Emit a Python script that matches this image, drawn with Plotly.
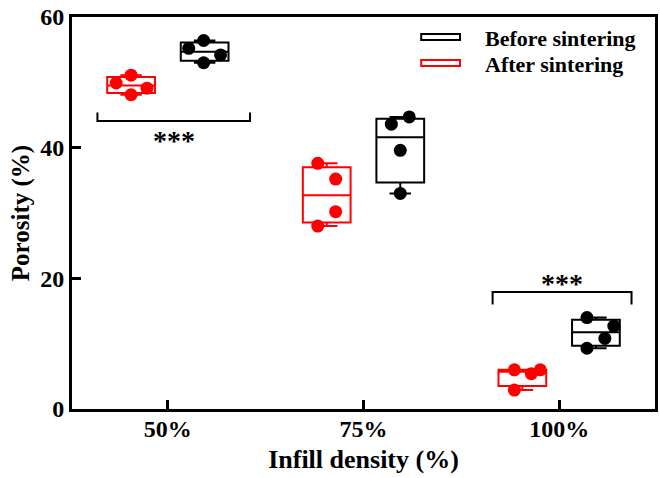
import numpy as np
import plotly.graph_objects as go

# ---------------- data ----------------
categories = ["50%", "75%", "100%"]
before_sintering = [
    [56.4, 55.2, 54.2, 53.0],
    [44.7, 43.6, 39.6, 33.0],
    [14.0, 12.7, 10.8, 9.3],
]
after_sintering = [
    [51.1, 49.9, 49.1, 48.1],
    [37.6, 35.2, 30.2, 28.0],
    [6.0, 5.4, 6.0, 2.9],
]
y_ticks = [0, 20, 40, 60]
significance = [
    {"cat": 0, "label": "***", "y": 44.1, "tip": 1.3, "left": -0.36, "right": 0.42, "below": True},
    {"cat": 2, "label": "***", "y": 17.9, "tip": -1.9, "left": -0.34, "right": 0.37, "below": False},
]

# ---------------- style ----------------
FONT = "Liberation Serif"
W, H = 660, 478
M = dict(l=72, r=2, t=17, b=69)
PW, PH = W - M["l"] - M["r"], H - M["t"] - M["b"]
X_RANGE = [-0.49, 2.49]
PX_PER_UNIT = PW / (X_RANGE[1] - X_RANGE[0])
GROUP_OFFSET = 0.188
BOX_WIDTH = 0.244
# horizontal swarm displacement of dots (pixels), purely cosmetic
before_dx = [[-1, -16, 16, -1], [9, -9, 0, 0], [-9, 18, 9, -9]]
after_dx = [[0, -15, 16, 0], [-9, 9, 9, -9], [-8, 9, 18, -8]]

series = [
    ("After sintering", after_sintering, after_dx, "#ff0000", -GROUP_OFFSET),
    ("Before sintering", before_sintering, before_dx, "#000000", GROUP_OFFSET),
]


def px_to_paper_x(px):
    return (px - M["l"]) / PW


def px_to_paper_y(py):
    return (M["t"] + PH - py) / PH


fig = go.Figure()
for name, data, dxs, color, off in series:
    pos = [i + off for i in range(len(categories))]
    q1 = [float(np.percentile(v, 25, method="weibull")) for v in data]
    med = [float(np.percentile(v, 50, method="weibull")) for v in data]
    q3 = [float(np.percentile(v, 75, method="weibull")) for v in data]
    lo = [min(v) for v in data]
    hi = [max(v) for v in data]
    fig.add_trace(go.Box(
        x=pos, q1=q1, median=med, q3=q3, lowerfence=lo, upperfence=hi,
        width=BOX_WIDTH, whiskerwidth=0.45, boxpoints=False,
        line=dict(color=color, width=2), fillcolor="rgba(255,255,255,0)",
        name=name, showlegend=False,
    ))
    xs, ys = [], []
    for i, (vals, d) in enumerate(zip(data, dxs)):
        for v, dx in zip(vals, d):
            xs.append(pos[i] + dx / PX_PER_UNIT)
            ys.append(v)
    fig.add_trace(go.Scatter(
        x=xs, y=ys, mode="markers", showlegend=False, name=name,
        marker=dict(size=13, color=color, line=dict(width=0)),
        hoverinfo="skip",
    ))

# significance brackets
for s in significance:
    x0 = s["cat"] + s["left"]
    x1 = s["cat"] + s["right"]
    y = s["y"]
    yt = y + s["tip"]
    fig.add_shape(type="path", xref="x", yref="y",
                  path=f"M {x0},{yt} L {x0},{y} L {x1},{y} L {x1},{yt}",
                  line=dict(color="black", width=2))
    fig.add_annotation(x=(x0 + x1) / 2, y=y, xref="x", yref="y",
                       text=s["label"], showarrow=False,
                       yanchor="top" if s["below"] else "bottom",
                       yshift=-2 if s["below"] else -9,
                       font=dict(family=FONT, size=28, color="black", weight="bold"))

# legend (drawn as shapes + text): Before first, After second
legend_rows = [("Before sintering", "#000000"), ("After sintering", "#ff0000")]
LEG_X0, LEG_X1, LEG_TEXT_X, LEG_Y0, LEG_DY = 423, 462, 486, 37, 26
for k, (label, color) in enumerate(legend_rows):
    cy = LEG_Y0 + k * LEG_DY
    fig.add_shape(type="rect", xref="paper", yref="paper",
                  x0=px_to_paper_x(LEG_X0), x1=px_to_paper_x(LEG_X1),
                  y0=px_to_paper_y(cy - 3), y1=px_to_paper_y(cy + 3),
                  line=dict(color=color, width=2), fillcolor="white")
    fig.add_annotation(x=px_to_paper_x(LEG_TEXT_X), y=px_to_paper_y(cy + 1),
                       xref="paper", yref="paper", xanchor="left", yanchor="middle",
                       text=label, showarrow=False, borderpad=0,
                       font=dict(family=FONT, size=22, color="black", weight="bold"))

axis_common = dict(showline=True, mirror=True, linewidth=3, linecolor="black",
                   ticks="inside", ticklen=9, tickwidth=3, tickcolor="black",
                   showgrid=False, zeroline=False,
                   tickfont=dict(family=FONT, size=24, color="black", weight="bold"))

fig.update_xaxes(range=X_RANGE, tickvals=list(range(len(categories))), ticktext=categories,
                 ticklabelstandoff=-4,
                 title=dict(text="Infill density (%)", standoff=10,
                            font=dict(family=FONT, size=26, color="black", weight="bold")),
                 **axis_common)
fig.update_yaxes(range=[y_ticks[0], y_ticks[-1]], tickvals=y_ticks,
                 title=dict(text="Porosity (%)", standoff=4,
                            font=dict(family=FONT, size=25, color="black", weight="bold")),
                 **axis_common)

fig.update_layout(
    width=W, height=H, margin=M,
    plot_bgcolor="white", paper_bgcolor="white",
    showlegend=False,
)

fig.write_html("out.html")
